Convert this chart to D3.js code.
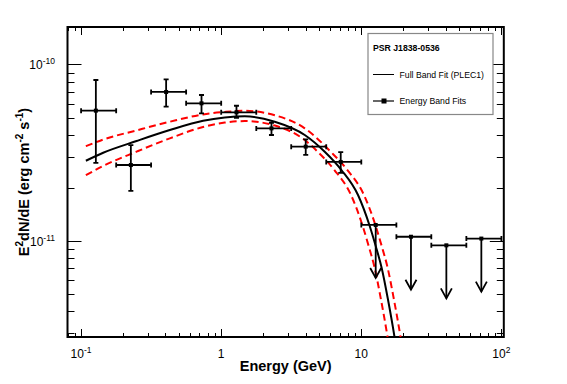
<!DOCTYPE html>
<html><head><meta charset="utf-8">
<script src="https://cdn.jsdelivr.net/npm/d3@7"></script>
<style>html,body{margin:0;padding:0;background:#fff;}svg{display:block;}</style>
</head><body>
<svg id="c" width="567" height="384"></svg>
<script>
// ---- data ----
const binLo = [0.1, 0.178, 0.316, 0.562, 1, 1.78, 3.16, 5.62, 10, 17.8, 31.6, 56.2];
const binHi = [0.178, 0.316, 0.562, 1, 1.78, 3.16, 5.62, 10, 17.8, 31.6, 56.2, 100];
const bandE = [0.1275, 0.2266, 0.4046, 0.7236, 1.2856, 2.285, 4.012, 7.13, 12.67, 22.62, 40.46, 71.9];
const bandFlux = [5.47e-11, 2.69e-11, 6.98e-11, 6.02e-11, 5.35e-11, 4.34e-11, 3.42e-11, 2.80e-11, 1.23e-11, 1.055e-11, 9.43e-12, 1.03e-11];
const bandFluxHi = [8.16e-11, 3.49e-11, 8.23e-11, 6.71e-11, 5.83e-11, 4.67e-11, 3.76e-11, 3.18e-11, null, null, null, null];
const bandFluxLo = [2.77e-11, 1.92e-11, 5.76e-11, 5.28e-11, 4.98e-11, 3.98e-11, 3.07e-11, 2.43e-11, null, null, null, null];
const isUpperLimit = [false, false, false, false, false, false, false, false, true, true, true, true];

const fitE = [0.1082, 0.1438, 0.2488, 0.4299, 0.7429, 1.061, 1.473, 2.412, 3.948, 5.482, 7.214, 9.474, 11.48, 12.67, 13.98, 15.43, 17.31, 18.79];
const fitFlux = [2.845e-11, 3.159e-11, 3.680e-11, 4.247e-11, 4.795e-11, 5.000e-11, 5.078e-11, 4.732e-11, 3.980e-11, 3.199e-11, 2.520e-11, 1.818e-11, 1.213e-11, 9.34e-12, 7.01e-12, 4.74e-12, 2.81e-12, 1.80e-12];
const upE = [0.1082, 0.1438, 0.2488, 0.4299, 0.7429, 1.061, 1.473, 2.412, 3.948, 6.050, 7.960, 10.45, 12.67, 13.98, 15.43, 17.02, 19.10, 20.74];
const upFlux = [3.438e-11, 3.752e-11, 4.226e-11, 4.732e-11, 5.207e-11, 5.378e-11, 5.463e-11, 5.152e-11, 4.344e-11, 3.199e-11, 2.520e-11, 1.818e-11, 1.213e-11, 9.34e-12, 7.01e-12, 4.74e-12, 2.81e-12, 1.80e-12];
const lowE = [0.1082, 0.1438, 0.2488, 0.4299, 0.7429, 1.061, 1.473, 2.412, 3.948, 4.887, 6.429, 8.446, 10.23, 11.29, 12.46, 13.75, 15.43, 16.75];
const lowFlux = [2.354e-11, 2.658e-11, 3.203e-11, 3.811e-11, 4.417e-11, 4.682e-11, 4.775e-11, 4.502e-11, 3.727e-11, 3.199e-11, 2.520e-11, 1.818e-11, 1.213e-11, 9.34e-12, 7.01e-12, 4.74e-12, 2.81e-12, 1.80e-12];

const xTickValues = [0.1, 1, 10, 100];
const xTickBase = ["10", "1", "10", "10"];
const xTickExp = ["-1", "", "", "2"];
const yTickValues = [1e-11, 1e-10];
const yTickBase = ["10", "10"];
const yTickExp = ["-11", "-10"];

const legendTitle = "PSR J1838-0536";
const legendFit = "Full Band Fit (PLEC1)";
const legendBands = "Energy Band Fits";

// ---- drawing ----
const FONT = "'Liberation Sans', Arial, Helvetica, sans-serif";
const svg = d3.select("#c");
const L = 67.5, R = 503.8, T = 27, B = 337;
const x = d3.scaleLog().domain([0.08, 104]).range([L, R]);
const y = d3.scaleLog().domain([2.85e-12, 1.63e-10]).range([B, T]);

svg.append("defs").append("clipPath").attr("id", "clip")
  .append("rect").attr("x", L).attr("y", T).attr("width", R - L).attr("height", B - T);

// ticks
const [xd0, xd1] = x.domain();
const xMinor = [];
for (let e = -2; e <= 2; e++) for (let m = 1; m <= 9; m++) {
  const v = m * Math.pow(10, e);
  if (v >= xd0 && v <= xd1) xMinor.push({v, major: m === 1});
}
const [yd0, yd1] = y.domain();
const yMinor = [];
for (let e = -13; e <= -9; e++) for (let m = 1; m <= 9; m++) {
  const v = m * Math.pow(10, e);
  if (v >= yd0 && v <= yd1) yMinor.push({v, major: m === 1});
}
const tk = svg.append("g").attr("stroke", "#000").attr("stroke-width", 1);
xMinor.forEach(t => {
  const xx = Math.round(x(t.v)) + 0.5, len = t.major ? 8 : 4;
  tk.append("line").attr("x1", xx).attr("x2", xx).attr("y1", B).attr("y2", B - len);
  tk.append("line").attr("x1", xx).attr("x2", xx).attr("y1", T).attr("y2", T + len);
});
yMinor.forEach(t => {
  const yy = Math.round(y(t.v)) + 0.5, len = t.major ? 14 : 7;
  tk.append("line").attr("y1", yy).attr("y2", yy).attr("x1", L).attr("x2", L + len);
  tk.append("line").attr("y1", yy).attr("y2", yy).attr("x1", R).attr("x2", R - len);
});

// frame
svg.append("rect").attr("x", L).attr("y", T).attr("width", R - L).attr("height", B - T)
  .attr("fill", "none").attr("stroke", "#000").attr("stroke-width", 2);

// tick labels
xTickValues.forEach((v, i) => {
  const t = svg.append("text").attr("x", x(v)).attr("y", 357.5).attr("text-anchor", "middle")
    .attr("font-family", FONT).attr("font-size", 12).attr("fill", "#000");
  t.append("tspan").text(xTickBase[i]);
  if (xTickExp[i]) t.append("tspan").attr("dy", -5).attr("font-size", 8.5).text(xTickExp[i]);
});
yTickValues.forEach((v, i) => {
  const t = svg.append("text").attr("x", 55).attr("y", y(v) + 5).attr("text-anchor", "end")
    .attr("font-family", FONT).attr("font-size", 12).attr("fill", "#000");
  t.append("tspan").text(yTickBase[i]);
  t.append("tspan").attr("dy", -5).attr("font-size", 8.5).text(yTickExp[i]);
});

// axis titles
svg.append("text").attr("x", (L + R) / 2).attr("y", 370.5).attr("text-anchor", "middle")
  .attr("font-family", FONT).attr("font-size", 14.5).attr("font-weight", "bold").text("Energy (GeV)");
const yt = svg.append("text").attr("transform", `translate(28.5,${(T + B) / 2}) rotate(-90)`)
  .attr("text-anchor", "middle").attr("font-family", FONT).attr("font-size", 14.5).attr("font-weight", "bold");
yt.append("tspan").text("E");
yt.append("tspan").attr("dy", -6).attr("font-size", 10).text("2");
yt.append("tspan").attr("dy", 6).text("dN/dE (erg cm");
yt.append("tspan").attr("dy", -6).attr("font-size", 10).text("-2");
yt.append("tspan").attr("dy", 6).text(" s");
yt.append("tspan").attr("dy", -6).attr("font-size", 10).text("-1");
yt.append("tspan").attr("dy", 6).text(")");

// curves
const plot = svg.append("g").attr("clip-path", "url(#clip)");
const line = d3.line().x(d => x(d[0])).y(d => y(d[1])).curve(d3.curveMonotoneX);
plot.append("path").datum(d3.zip(upE, upFlux)).attr("d", line)
  .attr("fill", "none").attr("stroke", "#ff0000").attr("stroke-width", 2).attr("stroke-dasharray", "7,4");
plot.append("path").datum(d3.zip(lowE, lowFlux)).attr("d", line)
  .attr("fill", "none").attr("stroke", "#ff0000").attr("stroke-width", 2).attr("stroke-dasharray", "7,4");
plot.append("path").datum(d3.zip(fitE, fitFlux)).attr("d", line)
  .attr("fill", "none").attr("stroke", "#000").attr("stroke-width", 2);

// energy band points
const pts = plot.append("g").attr("stroke", "#000").attr("stroke-width", 1.8).attr("fill", "none");
const cap = 2.5, arrowLen = 53;
bandE.forEach((e, i) => {
  const cx = x(e), cy = y(bandFlux[i]);
  const x0 = x(binLo[i]), x1 = x(binHi[i]);
  pts.append("line").attr("x1", x0).attr("x2", x1).attr("y1", cy).attr("y2", cy);
  pts.append("line").attr("x1", x0).attr("x2", x0).attr("y1", cy - cap).attr("y2", cy + cap);
  pts.append("line").attr("x1", x1).attr("x2", x1).attr("y1", cy - cap).attr("y2", cy + cap);
  if (!isUpperLimit[i]) {
    const y0 = y(bandFluxHi[i]), y1 = y(bandFluxLo[i]);
    pts.append("line").attr("x1", cx).attr("x2", cx).attr("y1", y0).attr("y2", y1);
    pts.append("line").attr("x1", cx - cap).attr("x2", cx + cap).attr("y1", y0).attr("y2", y0);
    pts.append("line").attr("x1", cx - cap).attr("x2", cx + cap).attr("y1", y1).attr("y2", y1);
  } else {
    const tip = cy + arrowLen;
    pts.append("line").attr("x1", cx).attr("x2", cx).attr("y1", cy).attr("y2", tip);
    pts.append("path").attr("d", `M${cx - 5.5},${tip - 10}L${cx},${tip}L${cx + 5.5},${tip - 10}`);
  }
  svg.append("rect").attr("x", cx - 2).attr("y", cy - 2).attr("width", 4).attr("height", 4).attr("fill", "#000");
});

// legend
const lg = svg.append("g");
lg.append("rect").attr("x", 368).attr("y", 33.5).attr("width", 125).attr("height", 81)
  .attr("fill", "#fff").attr("stroke", "#888").attr("stroke-width", 1.2);
lg.append("text").attr("x", 373).attr("y", 50.5).attr("font-family", FONT).attr("font-size", 8.7)
  .attr("font-weight", "bold").text(legendTitle);
lg.append("line").attr("x1", 373).attr("x2", 394).attr("y1", 74.5).attr("y2", 74.5).attr("stroke", "#000").attr("stroke-width", 1);
lg.append("text").attr("x", 399.5).attr("y", 77.5).attr("font-family", FONT).attr("font-size", 8.7).text(legendFit);
lg.append("line").attr("x1", 373).attr("x2", 394).attr("y1", 101).attr("y2", 101).attr("stroke", "#000").attr("stroke-width", 1.2);
lg.append("rect").attr("x", 381.5).attr("y", 98.5).attr("width", 5).attr("height", 5).attr("fill", "#000");
lg.append("text").attr("x", 399.5).attr("y", 104).attr("font-family", FONT).attr("font-size", 8.7).text(legendBands);
</script>
</body></html>
